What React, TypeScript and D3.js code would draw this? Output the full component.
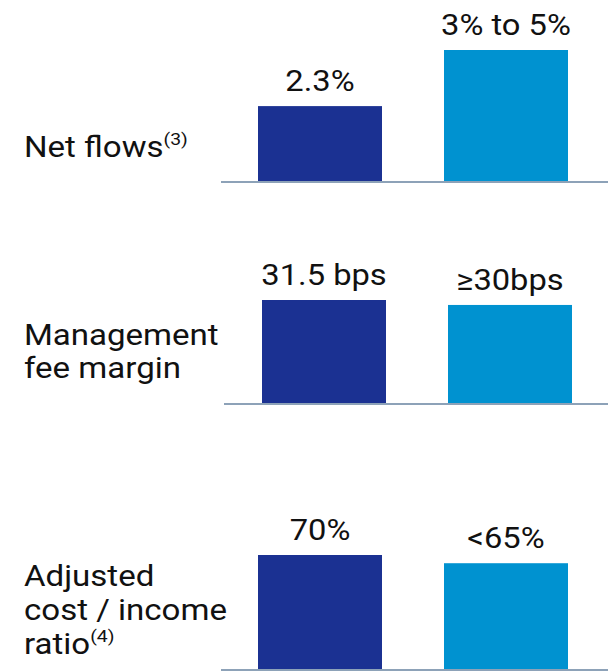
import React from "react";
import * as d3 from "d3";

const series = ["current", "target"];
const metricNames = ["Net flows", "Management fee margin", "Adjusted cost / income ratio"];
const labelLines = [["Net flows"], ["Management", "fee margin"], ["Adjusted", "cost / income", "ratio"]];
const footnotes = ["(3)", "", "(4)"];
const netFlows = [2.3, 4];
const feeMargin = [31.5, 30];
const costIncome = [70, 65];
const valueLabels = [["2.3%", "3% to 5%"], ["31.5 bps", "≥30bps"], ["70%", "<65%"]];

const W = 608;
const H = 671;
const COLORS = ["#1b3192", "#0092d0"];
const AXIS_COLOR = "#8da2b8";
const FONT = "Roboto, 'Liberation Sans', Arial, sans-serif";
const LABEL_SX = 1.14;
const VALUE_SX = 1.09;

const panels = [
  { values: netFlows, baseY: 182, barMaxH: 132, x0: 227, axisX0: 221, labelY: [157] },
  { values: feeMargin, baseY: 404, barMaxH: 104, x0: 231, axisX0: 224, labelY: [345, 378] },
  { values: costIncome, baseY: 670, barMaxH: 115, x0: 227, axisX0: 221, labelY: [586, 620, 654] },
];

export default function App() {
  return (
    <svg
      width={W}
      height={H}
      style={{ position: "absolute", left: 0, top: 0, background: "#fff" }}
      fontFamily={FONT}
    >
      {panels.map((p, i) => {
        const x = d3
          .scaleBand<string>()
          .domain(series)
          .range([p.x0, p.x0 + 372])
          .paddingInner(1 / 3)
          .paddingOuter(1 / 6);
        const maxV = d3.max(p.values) as number;
        const y = d3.scaleLinear().domain([0, maxV]).range([p.baseY, p.baseY - p.barMaxH]);
        const lines = labelLines[i];
        return (
          <g key={metricNames[i]}>
            {series.map((s, j) => {
              const cx = (x(s) as number) + x.bandwidth() / 2;
              const ty = y(p.values[j]) - 15;
              return (
                <g key={s}>
                  <rect
                    x={x(s)}
                    y={y(p.values[j])}
                    width={x.bandwidth()}
                    height={y(0) - y(p.values[j])}
                    fill={COLORS[j]}
                  />
                  <text
                    transform={`translate(${cx},${ty}) scale(${VALUE_SX},1)`}
                    textAnchor="middle"
                    fontSize={30}
                    fill="#111"
                  >
                    {valueLabels[i][j]}
                  </text>
                </g>
              );
            })}
            <line
              x1={p.axisX0}
              x2={W}
              y1={p.baseY}
              y2={p.baseY}
              stroke={AXIS_COLOR}
              strokeWidth={2}
            />
            {lines.map((ln, k) => (
              <text
                key={k}
                transform={`translate(24,${p.labelY[k]}) scale(${LABEL_SX},1)`}
                fontSize={29}
                fill="#111"
              >
                {ln}
                {k === lines.length - 1 && footnotes[i] ? (
                  <tspan fontSize={17} dy={-12}>
                    {footnotes[i]}
                  </tspan>
                ) : null}
              </text>
            ))}
          </g>
        );
      })}
    </svg>
  );
}
